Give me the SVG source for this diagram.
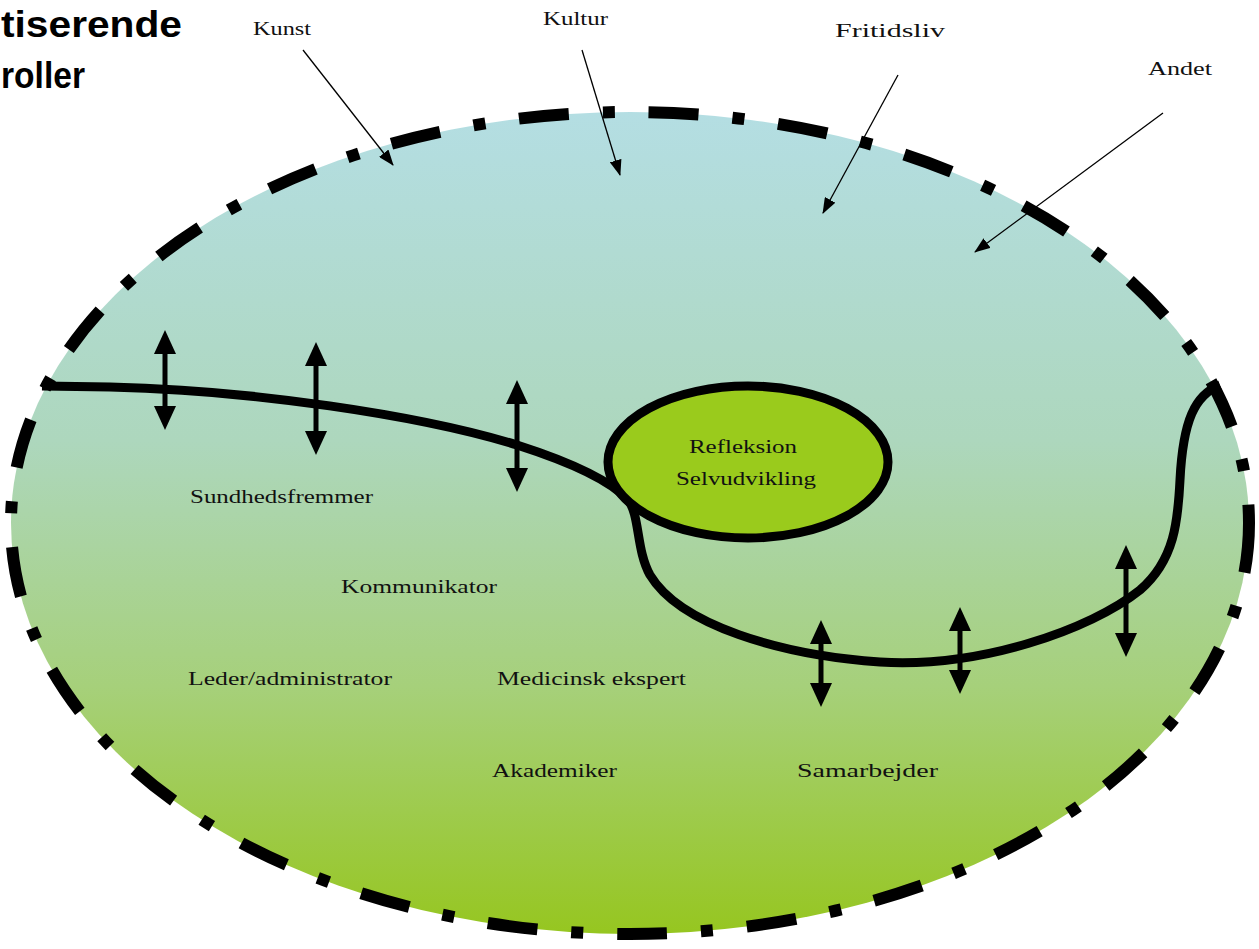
<svg xmlns="http://www.w3.org/2000/svg" width="1259" height="949" viewBox="0 0 1259 949">
<defs>
<linearGradient id="bg" x1="0" y1="0" x2="0" y2="1">
<stop offset="0" stop-color="#b4dee3"/>
<stop offset="0.4" stop-color="#add7bd"/>
<stop offset="0.7" stop-color="#a6d07a"/>
<stop offset="1" stop-color="#96c620"/>
</linearGradient>
<marker id="dh" viewBox="0 0 24 22" refX="0" refY="11" markerWidth="24" markerHeight="22" markerUnits="userSpaceOnUse" orient="auto-start-reverse">
<path d="M0,0 L24,11 L0,22 z" fill="#000"/>
</marker>
<marker id="th" viewBox="0 0 16 12" refX="15" refY="6" markerWidth="16" markerHeight="12" markerUnits="userSpaceOnUse" orient="auto">
<path d="M0,0 L16,6 L0,12 z" fill="#000"/>
</marker>
</defs>
<style>
.lbl{font-family:"Liberation Serif","DejaVu Serif",serif;font-size:19px;fill:#111}
.ttl{font-family:"Liberation Sans","DejaVu Sans",sans-serif;font-size:36px;font-weight:bold;fill:#000}
.thin{stroke:#000;stroke-width:1.3;fill:none;marker-end:url(#th)}
.dbl{stroke:#000;stroke-width:5;marker-start:url(#dh);marker-end:url(#dh)}
</style>
<rect width="1259" height="949" fill="#fff"/>
<g id="title">
<text class="ttl" x="1" y="37" textLength="181" lengthAdjust="spacingAndGlyphs">tiserende</text>
<text class="ttl" x="1" y="88" textLength="84" lengthAdjust="spacingAndGlyphs">roller</text>
</g>
<g id="outer">
<ellipse cx="630" cy="523" rx="619" ry="411" fill="url(#bg)" stroke="#000" stroke-width="12" stroke-dasharray="50 34 12 34"/>
</g>
<g id="connectors">
<path d="M42,386 L110,387 C250,390 420,415 517,445 C570,462 610,480 628,500 C640,515 636,550 650,575 C680,625 780,655 880,662 C980,668 1090,630 1140,590 C1175,560 1178,520 1180,480 C1183,420 1195,395 1220,385" fill="none" stroke="#000" stroke-width="9"/>
<line class="dbl" x1="165" y1="354" x2="165" y2="406"/>
<line class="dbl" x1="316" y1="366" x2="316" y2="431"/>
<line class="dbl" x1="517" y1="404" x2="517" y2="468"/>
<line class="dbl" x1="821" y1="644" x2="821" y2="683"/>
<line class="dbl" x1="960" y1="631" x2="960" y2="670"/>
<line class="dbl" x1="1126" y1="569" x2="1126" y2="633"/>
<line class="thin" x1="303" y1="50" x2="393" y2="165"/>
<line class="thin" x1="582" y1="50" x2="620" y2="175"/>
<line class="thin" x1="898" y1="75" x2="823" y2="213"/>
<line class="thin" x1="1163" y1="113" x2="975" y2="252"/>
</g>
<g id="inner">
<ellipse cx="748" cy="462" rx="140" ry="76" fill="#9acb1c" stroke="#000" stroke-width="9"/>
<text class="lbl" x="689" y="453" textLength="108" lengthAdjust="spacingAndGlyphs">Refleksion</text>
<text class="lbl" x="676" y="485" textLength="140" lengthAdjust="spacingAndGlyphs">Selvudvikling</text>
</g>
<g id="kunst"><text class="lbl" x="253" y="35" textLength="58" lengthAdjust="spacingAndGlyphs">Kunst</text></g>
<g id="kultur"><text class="lbl" x="543" y="25" textLength="65" lengthAdjust="spacingAndGlyphs">Kultur</text></g>
<g id="fritidsliv"><text class="lbl" x="835" y="37" textLength="110" lengthAdjust="spacingAndGlyphs">Fritidsliv</text></g>
<g id="andet"><text class="lbl" x="1148" y="75" textLength="64" lengthAdjust="spacingAndGlyphs">Andet</text></g>
<g id="sundhedsfremmer"><text class="lbl" x="190" y="503" textLength="183" lengthAdjust="spacingAndGlyphs">Sundhedsfremmer</text></g>
<g id="kommunikator"><text class="lbl" x="341" y="593" textLength="156" lengthAdjust="spacingAndGlyphs">Kommunikator</text></g>
<g id="leder"><text class="lbl" x="188" y="685" textLength="204" lengthAdjust="spacingAndGlyphs">Leder/administrator</text></g>
<g id="medicinsk"><text class="lbl" x="497" y="685" textLength="189" lengthAdjust="spacingAndGlyphs">Medicinsk ekspert</text></g>
<g id="akademiker"><text class="lbl" x="492" y="777" textLength="125" lengthAdjust="spacingAndGlyphs">Akademiker</text></g>
<g id="samarbejder"><text class="lbl" x="797" y="777" textLength="141" lengthAdjust="spacingAndGlyphs">Samarbejder</text></g>
</svg>
